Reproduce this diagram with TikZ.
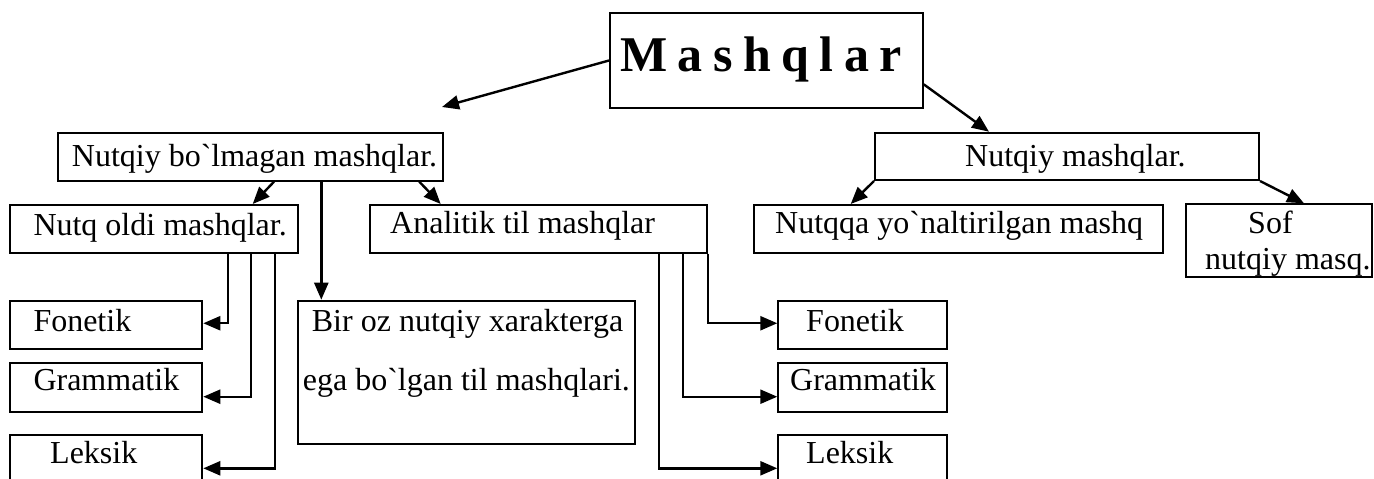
\documentclass[tikz,border=0pt]{standalone}
\usepackage{fontspec}
\newfontfamily\tn{Liberation Serif}
\usetikzlibrary{arrows.meta,fit}
\newcommand\gr{\symbol{96}}
\begin{document}
\begin{tikzpicture}[x=1pt,y=-1pt,
  box/.style={draw, line width=2pt, inner sep=0pt, fit={#1}},
  txt/.style={anchor=base west, inner sep=0pt, font=\tn\fontsize{32}{38}\selectfont},
  con/.style={line width=2.4pt, -{Triangle[length=17pt,width=14pt]}}]
\useasboundingbox (0,0) rectangle (1374,479);
% boxes
\node[box={(610,12.7) (922.7,108.3)}] (M) {};
\node[box={(58.3,132.7) (442.7,180.7)}] (NB) {};
\node[box={(875,132.7) (1259,180)}] (NM) {};
\node[box={(10,205) (298.3,252.7)}] (NO) {};
\node[box={(370,205) (706.7,252.7)}] (AN) {};
\node[box={(754,205) (1162.7,252.7)}] (NQ) {};
\node[box={(1186,204.3) (1372,276.7)}] (SOF) {};
\node[box={(10,300.7) (202.3,349)}] (FL) {};
\node[box={(10,363.3) (202.3,411.7)}] (GL) {};
\node[box={(10,435) (202.3,492)}] (LL) {};
\node[box={(298.3,300.7) (635,444.3)}] (BIR) {};
\node[box={(778.3,300.7) (946.7,349)}] (FR) {};
\node[box={(778.3,363.3) (946.7,411.7)}] (GR) {};
\node[box={(778.3,435) (946.7,492)}] (LR) {};
% texts
\node[anchor=base west, inner sep=0pt, font=\tn\fontsize{50}{60}\selectfont\bfseries] (tM) at (620,71.7)
  {M\hspace{10.5pt}a\hspace{10.5pt}s\hspace{10.5pt}h\hspace{10.5pt}q\hspace{10.5pt}l\hspace{10.5pt}a\hspace{10.5pt}r};
\node[txt] (tNB) at (71.7,166.7) {Nutqiy bo\gr lmagan mashqlar.};
\node[txt] (tNM) at (965,166) {Nutqiy mashqlar.};
\node[txt] (tNO) at (33.3,235) {Nutq oldi mashqlar.};
\node[txt] (tAN) at (390,233.3) {Analitik til mashqlar};
\node[txt] (tNQ) at (775,233) {Nutqqa yo\gr naltirilgan mashq};
\node[txt] (tS1) at (1248,233) {Sof};
\node[txt] (tS2) at (1205,269) {nutqiy masq.};
\node[txt] (tFL) at (33.3,331.7) {Fonetik};
\node[txt] (tGL) at (33.3,390) {Grammatik};
\node[txt] (tLL) at (50,463.3) {Leksik};
\node[txt] (tB1) at (311.7,331.7) {Bir oz nutqiy xarakterga};
\node[txt] (tB2) at (302.7,390) {ega bo\gr lgan til mashqlari.};
\node[txt] (tFR) at (806,331.7) {Fonetik};
\node[txt] (tGR) at (790,390) {Grammatik};
\node[txt] (tLR) at (806,463.3) {Leksik};
% connectors
\coordinate (tipL) at (442,107);
\draw[con] (M.west) -- (tipL);
\draw[con] ([yshift=-23.8pt]M.east) -- ([xshift=115pt]NM.north west);
\draw[con] ([xshift=216.7pt]NB.south west) -- ([xshift=-46.6pt]NO.north east);
\draw[con] ([xshift=264pt]NB.south west) -- ([xshift=24pt]BIR.north west);
\draw[con] ([xshift=-24.4pt]NB.south east) -- ([xshift=71.7pt]AN.north west);
\draw[con] (NM.south west) -- ([xshift=97.7pt]NQ.north west);
\draw[con] (NM.south east) -- ([xshift=119pt]SOF.north west);
\draw[con] ([xshift=-71.6pt]NO.south east) |- ([yshift=1.6pt]FL.east);
\draw[con] ([xshift=-48.3pt]NO.south east) |- ([yshift=-9.2pt]GL.east);
\draw[con] ([xshift=-24.3pt]NO.south east) |- ([yshift=-34.3pt]LL.north east);
\draw[con] (AN.south east) |- ([yshift=1.6pt]FR.west);
\draw[con] ([xshift=-25pt]AN.south east) |- ([yshift=-9.2pt]GR.west);
\draw[con] ([xshift=-49pt]AN.south east) |- ([yshift=-34.3pt]LR.north west);
\end{tikzpicture}
\end{document}
